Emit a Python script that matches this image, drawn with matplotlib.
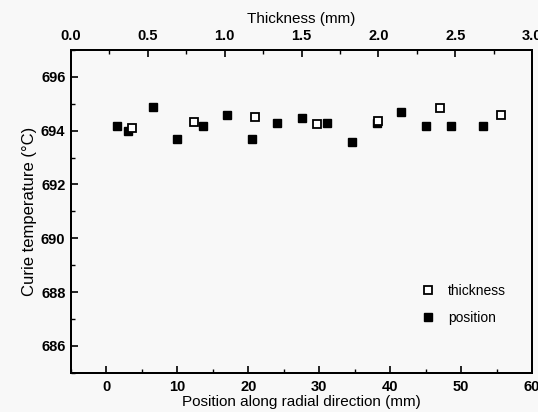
import matplotlib
matplotlib.use("Agg")
import matplotlib.pyplot as plt
from matplotlib.ticker import MultipleLocator

plt.rcParams['font.family'] = ['Liberation Sans', 'DejaVu Sans']

position_mm = [1.5, 3.0, 6.6, 10.0, 13.6, 17.0, 20.5, 24.0, 27.6, 31.1, 34.6, 38.1, 41.5, 45.1, 48.6, 53.1]
position_T = [694.17, 693.97, 694.89, 693.68, 694.17, 694.58, 693.68, 694.29, 694.48, 694.29, 693.58, 694.29, 694.68, 694.17, 694.17, 694.17]

thickness_mm = [0.40, 0.80, 1.20, 1.60, 2.00, 2.40, 2.80]
thickness_T = [694.10, 694.31, 694.52, 694.25, 694.37, 694.84, 694.58]

bg = '#f8f8f8'
fig = plt.figure(figsize=(5.38, 4.12), dpi=100, facecolor=bg)
ax = fig.add_axes([0.132, 0.095, 0.857, 0.784], facecolor=bg)
ax2 = ax.twiny()

lp, = ax.plot(position_mm, position_T, 's', color='black', markersize=6, label='position')
lt, = ax2.plot(thickness_mm, thickness_T, 's', markerfacecolor='white', markeredgecolor='black',
               markeredgewidth=1.3, markersize=6, label='thickness')

ax.set_xlim(-5, 60)
ax.set_ylim(685, 697)
ax2.set_xlim(0, 3.0)

ax.xaxis.set_major_locator(MultipleLocator(10))
ax.xaxis.set_minor_locator(MultipleLocator(5))
ax.yaxis.set_major_locator(MultipleLocator(2))
ax.yaxis.set_minor_locator(MultipleLocator(1))
ax2.xaxis.set_major_locator(MultipleLocator(0.5))
ax2.xaxis.set_minor_locator(MultipleLocator(0.25))
ax2.xaxis.set_major_formatter(plt.FormatStrFormatter('%.1f'))

for a in (ax, ax2):
    a.tick_params(which='major', direction='in', length=5, width=1.2, labelsize=10.5, pad=5)
    a.tick_params(which='minor', direction='in', length=3, width=1.0)
    for s in a.spines.values():
        s.set_linewidth(1.4)
ax.tick_params(axis='both', which='both', top=False, right=False)
ax.tick_params(axis='y', pad=4)
ax2.tick_params(axis='x', which='both', top=True, bottom=False)

for lab in ax.get_xticklabels() + ax.get_yticklabels() + ax2.get_xticklabels():
    lab.set_fontweight('bold')

ax.set_xlabel('Position along radial direction (mm)', fontsize=11, labelpad=1)
ax.set_ylabel('Curie temperature (\u00b0C)', fontsize=12, labelpad=3)
ax2.set_xlabel('Thickness (mm)', fontsize=11, labelpad=4)

ax.legend([lt, lp], ['thickness', 'position'], loc='lower right', frameon=False,
          bbox_to_anchor=(0.97, 0.11), fontsize=10, handletextpad=0.9, labelspacing=0.9,
          handlelength=1.0)

fig.savefig('out.png', dpi=100, facecolor=bg)
